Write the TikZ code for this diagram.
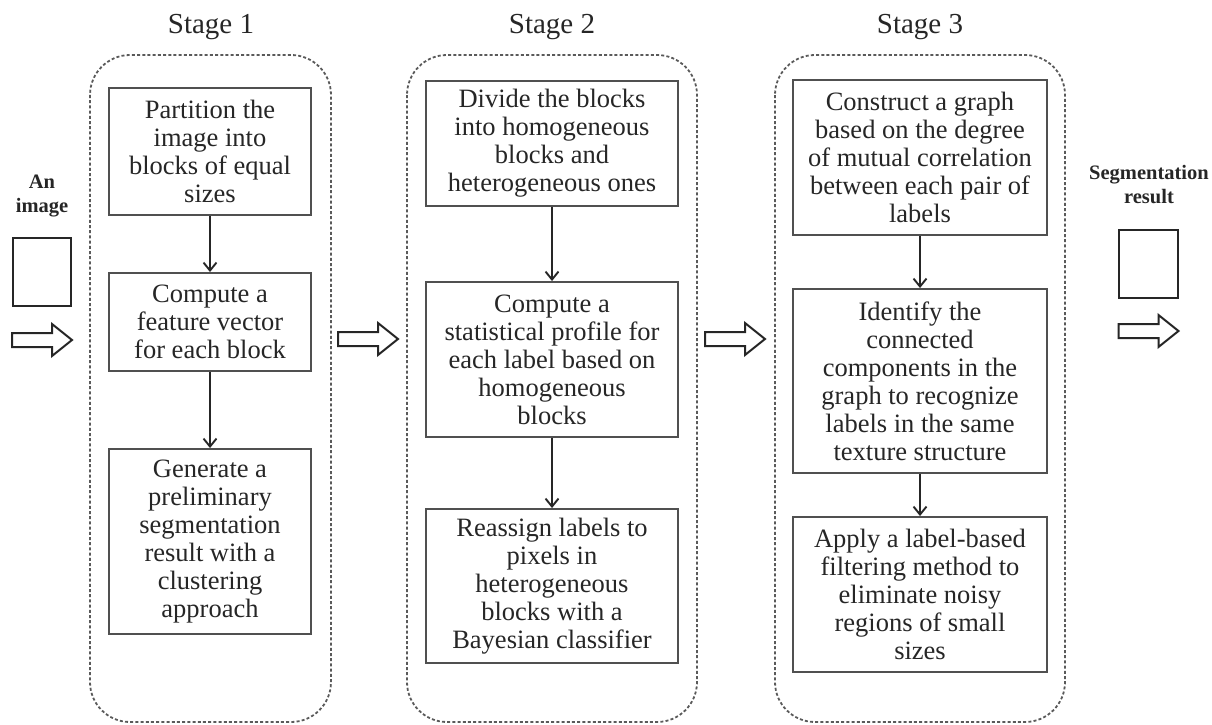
\documentclass[tikz,border=0pt]{standalone}
\usepackage{fontspec}
\setmainfont{Liberation Serif}
\usetikzlibrary{arrows.meta}
\definecolor{ink}{HTML}{262626}
\definecolor{frame}{HTML}{505050}
\definecolor{dashc}{HTML}{5A5A5A}
\begin{document}
\begin{tikzpicture}[x=1pt,y=-1pt,
  stagebox/.style={draw=dashc,line width=1.8pt,dash pattern=on 3pt off 2.2pt,rounded corners=40pt},
  stepbox/.style={draw=frame,line width=1.9pt,fill=white,align=center,text=ink,inner sep=0pt,
    font=\fontsize{26.5}{28}\selectfont},
  flow/.style={draw=ink,line width=1.9pt,-{Straight Barb[length=8pt,width=13pt,line width=1.9pt]}},
  stagelabel/.style={text=ink,font=\fontsize{29}{32}\selectfont},
  sidelabel/.style={text=ink,align=center,font=\bfseries\fontsize{20.5}{24}\selectfont},
  imgbox/.style={draw=ink,line width=2.2pt},
  fatarrow/.pic={\draw[ink,line width=2pt,line join=miter]
    (-30,-7) -- (10,-7) -- (10,-16) -- (30,0) -- (10,16) -- (10,7) -- (-30,7) -- cycle;}
]
\useasboundingbox (0,0) rectangle (1212,725);

% dashed stage frames
\draw[stagebox] (90,55) rectangle (331,722);
\draw[stagebox] (407,55) rectangle (697,722);
\draw[stagebox] (775,55) rectangle (1065,722);

% stage titles
\node[stagelabel] (t1) at (211,27) {Stage 1};
\node[stagelabel] (t2) at (552,27) {Stage 2};
\node[stagelabel] (t3) at (920,27) {Stage 3};

% Stage 1 steps
\node[stepbox,minimum width=202pt,minimum height=127pt] (a1) at (210,151.5)
  {Partition the\\image into\\blocks of equal\\sizes};
\node[stepbox,minimum width=202pt,minimum height=98pt] (a2) at (210,322)
  {Compute a\\feature vector\\for each block};
\node[stepbox,minimum width=202pt,minimum height=185pt] (a3) at (210,541.5)
  {Generate a\\preliminary\\segmentation\\result with a\\clustering\\approach};

% Stage 2 steps
\node[stepbox,minimum width=252pt,minimum height=125pt] (b1) at (552,143.5)
  {Divide the blocks\\into homogeneous\\blocks and\\heterogeneous ones};
\node[stepbox,minimum width=252pt,minimum height=155pt] (b2) at (552,359.5)
  {Compute a\\statistical profile for\\each label based on\\homogeneous\\blocks};
\node[stepbox,minimum width=252pt,minimum height=154pt] (b3) at (552,586)
  {Reassign labels to\\pixels in\\heterogeneous\\blocks with a\\Bayesian classifier};

% Stage 3 steps
\node[stepbox,minimum width=254pt,minimum height=155pt] (c1) at (920,157.5)
  {Construct a graph\\based on the degree\\of mutual correlation\\between each pair of\\labels};
\node[stepbox,minimum width=254pt,minimum height=184pt] (c2) at (920,381)
  {Identify the\\connected\\components in the\\graph to recognize\\labels in the same\\texture structure};
\node[stepbox,minimum width=254pt,minimum height=155pt] (c3) at (920,594.5)
  {Apply a label-based\\filtering method to\\eliminate noisy\\regions of small\\sizes};

% flow inside the stages
\draw[flow] (a1) -- (a2);
\draw[flow] (a2) -- (a3);
\draw[flow] (b1) -- (b2);
\draw[flow] (b2) -- (b3);
\draw[flow] (c1) -- (c2);
\draw[flow] (c2) -- (c3);

% input image
\node[sidelabel] (inlbl) at (42,196) {An\\image};
\node[imgbox,minimum width=58pt,minimum height=68pt,inner sep=0pt] (inimg) at (42,272) {};
\pic at (42,340) {fatarrow};

% arrows between stages
\pic at (368,339) {fatarrow};
\pic at (735,339) {fatarrow};

% output
\node[sidelabel] (outlbl) at (1149,185) {Segmentation\\result};
\node[imgbox,minimum width=59pt,minimum height=68pt,inner sep=0pt] (outimg) at (1148.5,264) {};
\pic at (1148.5,331) {fatarrow};
\end{tikzpicture}
\end{document}
